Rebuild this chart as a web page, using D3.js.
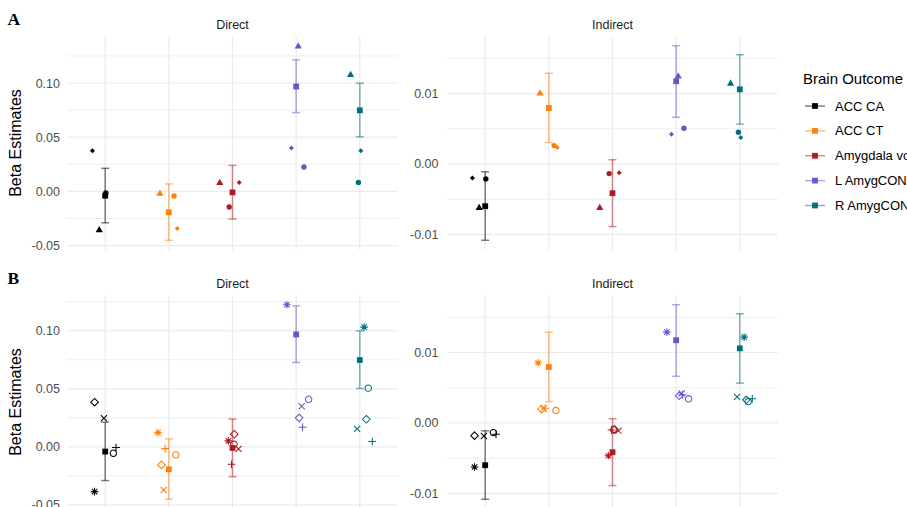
<!DOCTYPE html>
<html><head><meta charset="utf-8">
<script src="https://cdn.jsdelivr.net/npm/d3@7"></script>
<style>body{margin:0;background:#fff}text{font-family:"Liberation Sans",Arial,sans-serif}</style>
</head><body>
<svg id="c" width="907" height="507"></svg>
<script>
// ---------- data ----------
const categories = ["ACC CA", "ACC CT", "Amygdala vol", "L AmygCON", "R AmygCON"];
const colors = ["#000000", "#FF7F0E", "#AE1B22", "#6A55C8", "#00707E"];

const directEst = [-0.0040, -0.0193, -0.0009, 0.0968, 0.0748];
const directLo  = [-0.0290, -0.0451, -0.0256, 0.0727, 0.0503];
const directHi  = [ 0.0213,  0.0069,  0.0240, 0.1214, 0.0999];
const indirectEst = [-0.00601, 0.00794, -0.00416, 0.01174, 0.01059];
const indirectLo  = [-0.01085, 0.00303, -0.00890, 0.00662, 0.00565];
const indirectHi  = [-0.00112, 0.01288,  0.00059, 0.01679, 0.01551];

// Panel A: alternative models
const directTri   = [-0.0353, -0.0015,  0.0083, 0.1344, 0.1080];
const directCirc  = [-0.0015, -0.0043, -0.0144, 0.0225, 0.0083];
const directDia   = [ 0.0375, -0.0343,  0.0083, 0.0400, 0.0375];
const indirectTri  = [-0.00617, 0.01009, -0.00617, 0.01250, 0.01150];
const indirectCirc = [-0.00213, 0.00260, -0.00138, 0.00506, 0.00450];
const indirectDia  = [-0.00199, 0.00232, -0.00124, 0.00421, 0.00374];

// Panel B: alternative models
const directAst   = [-0.0385,  0.0123,  0.0052, 0.1224, 0.1031];
const directX     = [ 0.0247, -0.0371, -0.0017, 0.0350, 0.0155];
const directPlus  = [-0.0006, -0.0015, -0.0150, 0.0169, 0.0046];
const directOCirc = [-0.0055, -0.0069,  0.0022, 0.0410, 0.0505];
const directODia  = [ 0.0385, -0.0155,  0.0109, 0.0250, 0.0238];
const indirectAst   = [-0.00627, 0.00855, -0.00466, 0.01290, 0.01219];
const indirectX     = [-0.00185, 0.00204, -0.00110, 0.00417, 0.00370];
const indirectPlus  = [-0.00162, 0.00208, -0.00100, 0.00400, 0.00342];
const indirectOCirc = [-0.00138, 0.00175, -0.00100, 0.00342, 0.00303];
const indirectODia  = [-0.00181, 0.00194, -0.00090, 0.00385, 0.00328];

// horizontal jitter (fraction of category step)
const jitterTri   = [-0.094, -0.14, -0.2, 0.033, -0.145];
const jitterCirc  = [0.01, 0.082, -0.052, 0.122, -0.022];
const jitterDia   = [-0.2, 0.132, 0.105, -0.074, 0.016];
const jitterAst   = [-0.167, -0.17, -0.065, -0.146, 0.068];
const jitterX     = [-0.02, -0.08, 0.095, 0.087, -0.042];
const jitterPlus  = [0.17, -0.058, -0.015, 0.1, 0.196];
const jitterOCirc = [0.128, 0.11, 0.023, 0.196, 0.133];
const jitterODia  = [-0.167, -0.115, 0.028, 0.047, 0.102];

const directTicks = [-0.05, 0, 0.05, 0.10];
const directMinor = [-0.025, 0.025, 0.075, 0.125];
const indirectTicks = [-0.01, 0, 0.01];
const indirectMinor = [-0.005, 0.005, 0.015];

const facetLabels = ["Direct", "Indirect"];
const legendTitle = "Brain Outcome";
const yTitle = "Beta Estimates";
const rowLetters = ["A", "B"];

// ---------- build ----------
const effects = {
  direct:   {est: directEst, lo: directLo, hi: directHi, ticks: directTicks, minor: directMinor, fmt: d => d.toFixed(2)},
  indirect: {est: indirectEst, lo: indirectLo, hi: indirectHi, ticks: indirectTicks, minor: indirectMinor, fmt: d => d.toFixed(2)}
};
const modelsA = [
  {shape: "triangle", direct: directTri, indirect: indirectTri, jitter: jitterTri},
  {shape: "circle", direct: directCirc, indirect: indirectCirc, jitter: jitterCirc},
  {shape: "sdiamond", direct: directDia, indirect: indirectDia, jitter: jitterDia}
];
const modelsB = [
  {shape: "asterisk", direct: directAst, indirect: indirectAst, jitter: jitterAst},
  {shape: "x", direct: directX, indirect: indirectX, jitter: jitterX},
  {shape: "plus", direct: directPlus, indirect: indirectPlus, jitter: jitterPlus},
  {shape: "ocircle", direct: directOCirc, indirect: indirectOCirc, jitter: jitterOCirc},
  {shape: "odiamond", direct: directODia, indirect: indirectODia, jitter: jitterODia}
];

function shapePath(t) {
  switch (t) {
    case "square": { const s = 2.9; return `M${-s},${-s}H${s}V${s}H${-s}Z`; }
    case "triangle": { const s = 3.6; return `M0,${-s}L${s},${s*0.75}L${-s},${s*0.75}Z`; }
    case "circle": { const r = 2.7; return `M${r},0A${r},${r} 0 1,1 ${-r},0A${r},${r} 0 1,1 ${r},0Z`; }
    case "sdiamond": { const s = 2.5; return `M0,${-s}L${s},0L0,${s}L${-s},0Z`; }
    case "ocircle": { const r = 3.2; return `M${r},0A${r},${r} 0 1,1 ${-r},0A${r},${r} 0 1,1 ${r},0Z`; }
    case "odiamond": { const s = 3.8; return `M0,${-s}L${s},0L0,${s}L${-s},0Z`; }
    case "x": { const s = 3.1; return `M${-s},${-s}L${s},${s}M${-s},${s}L${s},${-s}`; }
    case "plus": { const s = 3.9; return `M${-s},0H${s}M0,${-s}V${s}`; }
    case "asterisk": { const s = 3.8, d = 2.7; return `M${-s},0H${s}M0,${-s}V${s}M${-d},${-d}L${d},${d}M${-d},${d}L${d},${-d}`; }
  }
}
const filled = {square: 1, triangle: 1, circle: 1, sdiamond: 1};

const svg = d3.select("#c");
svg.append("rect").attr("width", 907).attr("height", 507).attr("fill", "#fff");

const cols = [
  {key: "direct", x0: 67, x1: 398, labelX: 60},
  {key: "indirect", x0: 447, x1: 778, labelX: 438.5}
];
const rows = [
  {y0: 36, y1: 250, letterY: 25, stripY: 29, models: modelsA},
  {y0: 295, y1: 509, letterY: 283.5, stripY: 287.5, models: modelsB}
];

rows.forEach((row, ri) => {
  svg.append("text").attr("x", 7.5).attr("y", row.letterY)
    .style("font-family", "'Liberation Serif','Times New Roman',serif")
    .style("font-weight", "bold").style("font-size", "17.5px").attr("fill", "#000")
    .text(rowLetters[ri]);
  svg.append("text")
    .attr("transform", `translate(21,${(row.y0 + row.y1) / 2}) rotate(-90)`)
    .attr("text-anchor", "middle").style("font-size", "16px").attr("fill", "#000")
    .text(yTitle);

  cols.forEach((col, ci) => {
    const eff = effects[col.key];
    const vals = [].concat(eff.lo, eff.hi, eff.est, ...row.models.map(m => m[col.key]));
    const [mn, mx] = d3.extent(vals);
    const pad = (mx - mn) * 0.05;
    const y = d3.scaleLinear().domain([mn - pad, mx + pad]).range([row.y1, row.y0]);
    const x = d3.scalePoint().domain(categories).range([col.x0, col.x1]).padding(0.6);
    const step = x.step();
    const g = svg.append("g");

    // grid
    g.selectAll(".mn").data(eff.minor.filter(v => v >= y.domain()[0] && v <= y.domain()[1])).join("line")
      .attr("x1", col.x0).attr("x2", col.x1).attr("y1", d => y(d)).attr("y2", d => y(d))
      .attr("stroke", "#EBEBEB").attr("stroke-width", 0.8);
    g.selectAll(".mj").data(eff.ticks.filter(v => v >= y.domain()[0] && v <= y.domain()[1])).join("line")
      .attr("x1", col.x0).attr("x2", col.x1).attr("y1", d => y(d)).attr("y2", d => y(d))
      .attr("stroke", "#EBEBEB").attr("stroke-width", 1.2);
    g.selectAll(".vg").data(categories).join("line")
      .attr("x1", d => x(d)).attr("x2", d => x(d)).attr("y1", row.y0).attr("y2", row.y1)
      .attr("stroke", "#EBEBEB").attr("stroke-width", 1.2);

    // y axis
    const ax = svg.append("g").attr("transform", `translate(${col.labelX},0)`)
      .call(d3.axisLeft(y).tickValues(eff.ticks.filter(v => v >= y.domain()[0] && v <= y.domain()[1]))
        .tickFormat(eff.fmt).tickSize(0).tickPadding(0));
    ax.select(".domain").remove();
    ax.selectAll("text").attr("fill", "#4D4D4D").style("font-size", "12.5px")
      .style("font-family", "'Liberation Sans',Arial,sans-serif");

    // strip label
    svg.append("text").attr("x", (col.x0 + col.x1) / 2).attr("y", row.stripY)
      .attr("text-anchor", "middle").style("font-size", "12.5px").attr("fill", "#1A1A1A")
      .text(facetLabels[ci]);

    // error bars
    categories.forEach((c, i) => {
      const eb = g.append("g").attr("stroke", colors[i]).attr("stroke-opacity", 0.5).attr("stroke-width", 1.5);
      eb.append("line").attr("x1", x(c)).attr("x2", x(c)).attr("y1", y(eff.lo[i])).attr("y2", y(eff.hi[i]));
      eb.append("line").attr("x1", x(c) - 4).attr("x2", x(c) + 4).attr("y1", y(eff.lo[i])).attr("y2", y(eff.lo[i]));
      eb.append("line").attr("x1", x(c) - 4).attr("x2", x(c) + 4).attr("y1", y(eff.hi[i])).attr("y2", y(eff.hi[i]));
    });

    // model points
    row.models.forEach(m => {
      categories.forEach((c, i) => {
        const p = g.append("path").attr("d", shapePath(m.shape))
          .attr("transform", `translate(${x(c) + m.jitter[i] * step},${y(m[col.key][i])})`);
        if (filled[m.shape]) p.attr("fill", colors[i]);
        else p.attr("fill", "none").attr("stroke", colors[i]).attr("stroke-width", 1.05);
      });
    });
    // estimates
    categories.forEach((c, i) => {
      g.append("path").attr("d", shapePath("square"))
        .attr("transform", `translate(${x(c)},${y(eff.est[i])})`).attr("fill", colors[i]);
    });
  });
});

// legend
const lg = svg.append("g");
lg.append("text").attr("x", 803).attr("y", 84).style("font-size", "15px").attr("fill", "#000").text(legendTitle);
const ly = d3.scalePoint().domain(categories).range([106, 205.5]);
categories.forEach((c, i) => {
  const yy = ly(c);
  lg.append("line").attr("x1", 805).attr("x2", 825).attr("y1", yy).attr("y2", yy)
    .attr("stroke", colors[i]).attr("stroke-opacity", 0.5).attr("stroke-width", 1.5);
  lg.append("path").attr("d", shapePath("square")).attr("transform", `translate(815,${yy})`).attr("fill", colors[i]);
  lg.append("text").attr("x", 835).attr("y", yy + 4.6).style("font-size", "13px").attr("fill", "#000").text(c);
});
</script>
</body></html>
